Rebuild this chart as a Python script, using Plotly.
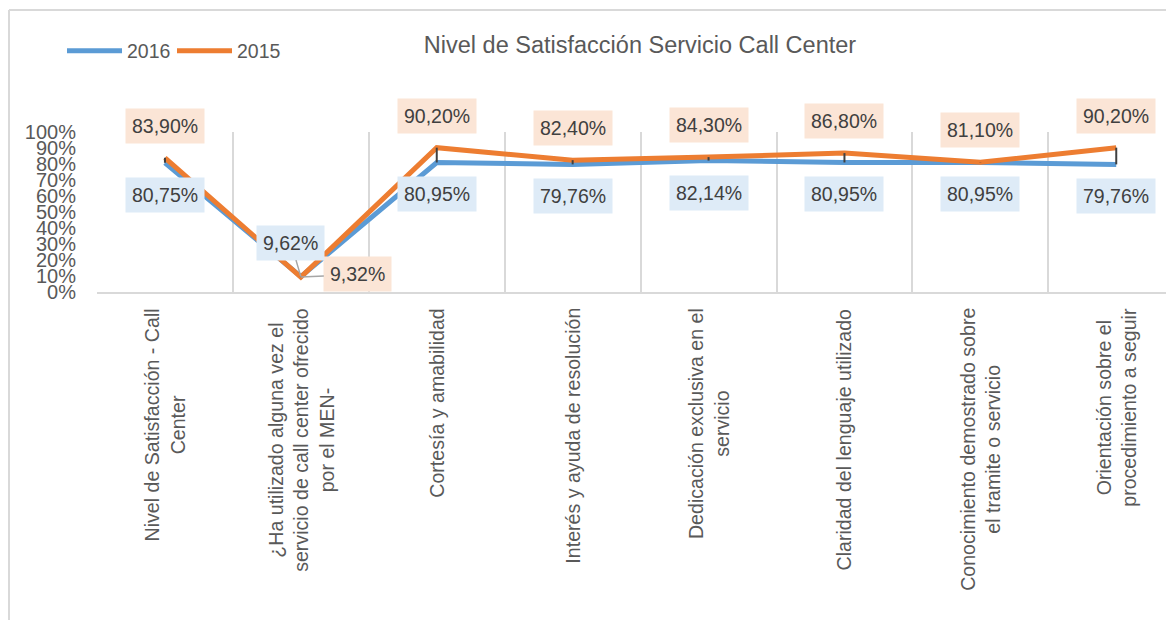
import plotly.graph_objects as go

categories = [
    "Nivel de Satisfacción - Call<br>Center",
    "¿Ha utilizado alguna vez el<br>servicio de call center ofrecido<br>por el MEN-",
    "Cortesía y amabilidad",
    "Interés y ayuda de resolución",
    "Dedicación exclusiva en el<br>servicio",
    "Claridad del lenguaje utilizado",
    "Conocimiento demostrado sobre<br>el tramite o servicio",
    "Orientación sobre el<br>procedimiento a seguir",
]
values_2016 = [80.75, 9.62, 80.95, 79.76, 82.14, 80.95, 80.95, 79.76]
values_2015 = [83.90, 9.32, 90.20, 82.40, 84.30, 86.80, 81.10, 90.20]
y_ticks = [0, 10, 20, 30, 40, 50, 60, 70, 80, 90, 100]
title_text = "Nivel de Satisfacción Servicio Call Center"

FONT = "Liberation Sans, Arial, sans-serif"
BLUE = "#5B9BD5"
ORANGE = "#ED7D31"
BLUE_BG = "#DEEBF7"
ORANGE_BG = "#FBE5D6"
GRID = "#D9D9D9"
TXT = "#595959"
LBL = "#404040"

# page body has an 8px margin; figure sized to fit the window
OFF = 8
W, H = 1174 - OFF, 620 - OFF
ML, MT = 97 - OFF, 132 - OFF
MB = H - (292 - OFF)
PH = H - MT - MB
PW = W - ML
n = len(categories)
idx = list(range(n))
cat_w = 135.9
x_end = -0.5 + PW / cat_w

fig = go.Figure()
fig.add_trace(go.Scatter(x=idx, y=values_2016, mode="lines", name="2016",
                         line=dict(color=BLUE, width=5)))
fig.add_trace(go.Scatter(x=idx, y=values_2015, mode="lines", name="2015",
                         line=dict(color=ORANGE, width=5)))

# high-low lines between the two series
hx, hy = [], []
for i in idx:
    hx += [i, i, None]
    hy += [values_2016[i], values_2015[i], None]
fig.add_trace(go.Scatter(x=hx, y=hy, mode="lines", showlegend=False,
                         line=dict(color=LBL, width=2), hoverinfo="skip"))

def fmt(v):
    return f"{v:.2f}".replace(".", ",") + "%"

ann = []
special = {1: {"2016": (-10, -34), "2015": (57, -3)}}
for i in idx:
    for key, vals, bg, dy in (("2015", values_2015, ORANGE_BG, 32),
                               ("2016", values_2016, BLUE_BG, -32)):
        base = dict(x=i, y=vals[i], xref="x", yref="y", text=fmt(vals[i]),
                    bgcolor=bg, borderpad=6,
                    font=dict(family=FONT, size=19.5, color=LBL))
        if i in special:
            ax, ay = special[i][key]
            base.update(showarrow=True, arrowhead=0, arrowwidth=1.5,
                        arrowcolor="#A6A6A6", ax=ax, ay=ay, standoff=0)
        else:
            base.update(showarrow=False, yshift=dy)
        ann.append(base)

for i, c in enumerate(categories):
    ann.append(dict(x=i, y=0, xref="x", yref="paper", yanchor="top",
                    xanchor="center", yshift=-14, text=c, textangle=-90,
                    align="center", showarrow=False,
                    font=dict(family=FONT, size=19.6, color=TXT)))

border_top = 1 + (MT - (10 - OFF)) / PH
border_left = (1 - ML) / PW

fig.update_layout(
    width=W, height=H,
    margin=dict(l=ML, r=0, t=MT, b=MB, autoexpand=False),
    paper_bgcolor="white", plot_bgcolor="white",
    title=dict(text=title_text, x=(640 - OFF) / W, xref="container",
               xanchor="center", y=1 - (45 - OFF) / H, yref="container",
               yanchor="middle",
               font=dict(family=FONT, size=23.5, color=TXT)),
    showlegend=True,
    legend=dict(orientation="h", x=(62 - OFF - ML) / PW, xanchor="left",
                y=1 + (MT - (51 - OFF)) / PH, yanchor="middle",
                font=dict(family=FONT, size=19.5, color=TXT),
                itemwidth=55, entrywidth=40,
                bgcolor="rgba(0,0,0,0)", tracegroupgap=0),
    annotations=ann,
    xaxis=dict(type="linear", range=[-0.5, x_end], showticklabels=False,
               tickvals=[i - 0.5 for i in range(n + 1)],
               showgrid=True, gridcolor=GRID, gridwidth=2,
               zeroline=False, showline=True, linecolor=GRID, linewidth=2,
               ticks=""),
    yaxis=dict(range=[0, 100], tickvals=y_ticks,
               ticktext=[f"{t}%" for t in y_ticks],
               showgrid=False, zeroline=False, showline=False,
               ticks="", ticklabelstandoff=20,
               tickfont=dict(family=FONT, size=20, color=TXT)),
    shapes=[
        dict(type="line", xref="paper", yref="paper",
             x0=border_left, x1=1.0, y0=border_top, y1=border_top,
             line=dict(color=GRID, width=2)),
        dict(type="line", xref="paper", yref="paper",
             x0=border_left, x1=border_left, y0=border_top, y1=-MB / PH,
             line=dict(color=GRID, width=2)),
    ],
)

fig.write_html("out.html")
